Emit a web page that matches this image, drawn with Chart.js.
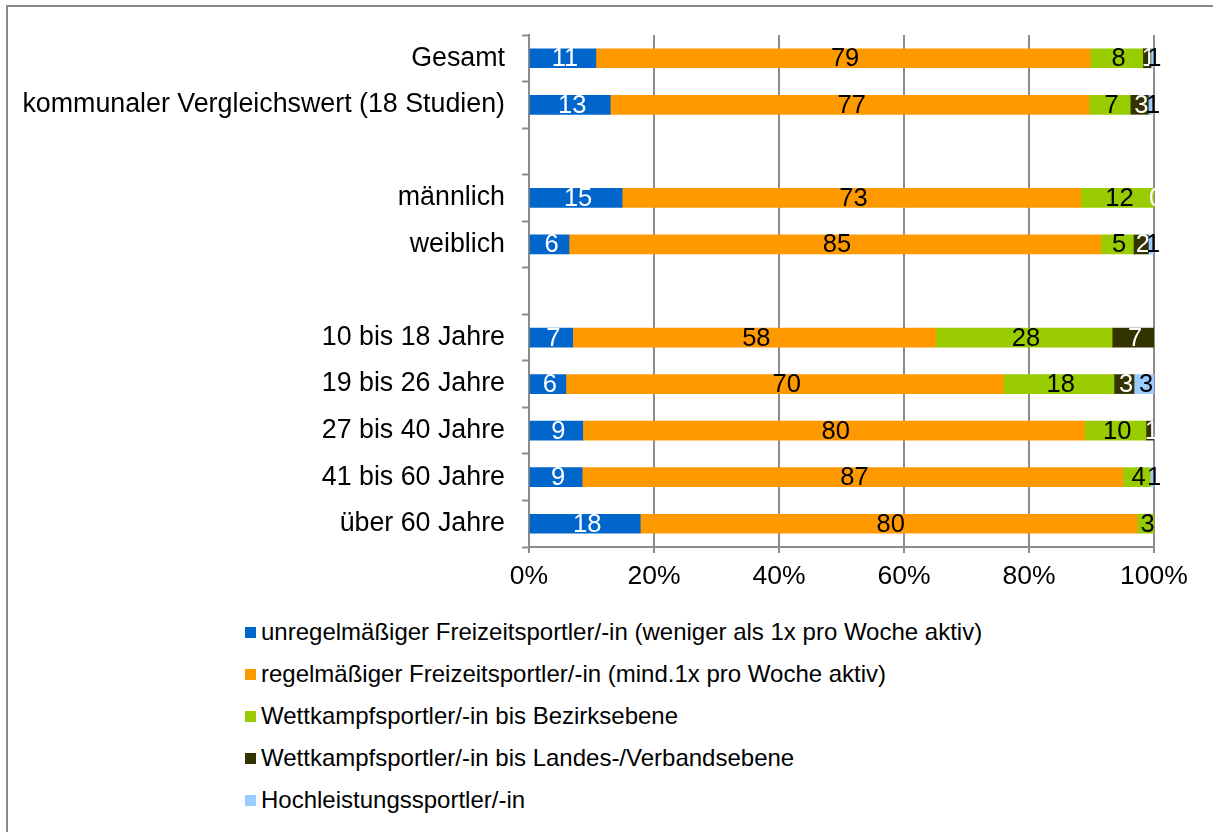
<!DOCTYPE html>
<html lang="de">
  <head>
    <meta charset="UTF-8" />
    <title>Sportlertypen</title>
    <style>
      body {
        margin: 0;
        background: #fff;
        font-family: "Liberation Sans", Arial, sans-serif;
        overflow: hidden;
      }
      #rahmen {
        position: absolute;
        left: 6px;
        top: 5px;
        width: 1300px;
        height: 900px;
        border-top: 2px solid #898989;
        border-left: 2px solid #898989;
      }
      #grafik {
        position: absolute;
        left: 0;
        top: 0;
      }
      #legende {
        position: absolute;
        left: 245px;
        top: 611px;
        font-size: 24px;
        color: #000;
      }
      .eintrag {
        height: 42px;
        line-height: 42px;
        white-space: nowrap;
      }
      .eintrag span {
        display: inline-block;
        width: 11px;
        height: 11px;
        margin-right: 5px;
        vertical-align: 2px;
      }
    </style>
  </head>
  <body>
    <div id="rahmen"></div>
    <canvas id="grafik" width="1213" height="600"></canvas>
    <div id="legende"></div>

    <script src="https://cdn.jsdelivr.net/npm/chart.js"></script>

    <script>
      const kategorien = [
        "Gesamt",
        "kommunaler Vergleichswert (18 Studien)",
        "",
        "männlich",
        "weiblich",
        "",
        "10 bis 18 Jahre",
        "19 bis 26 Jahre",
        "27 bis 40 Jahre",
        "41 bis 60 Jahre",
        "über 60 Jahre",
      ];

      const unregelmaessig = [10.7, 13.0, null, 14.9, 6.4, null, 7.0, 5.9, 8.6, 8.5, 17.8];
      const regelmaessig = [79.1, 76.6, null, 73.4, 85.1, null, 58.1, 70.0, 80.3, 86.5, 79.5];
      const bezirk = [8.4, 6.6, null, 11.7, 5.2, null, 28.2, 17.7, 9.8, 4.4, 2.7];
      const landes = [1.3, 2.9, null, 0, 2.4, null, 6.7, 3.2, 1.3, null, null];
      const hochleistung = [0.5, 0.9, null, null, 0.9, null, null, 3.2, null, 0.6, null];

      const xTicks = [0, 20, 40, 60, 80, 100];

      const serien = [
        {
          label: "unregelmäßiger Freizeitsportler/-in (weniger als 1x pro Woche aktiv)",
          data: unregelmaessig,
          farbe: "#0066cc",
          schrift: "#ffffff",
        },
        {
          label: "regelmäßiger Freizeitsportler/-in (mind.1x pro Woche aktiv)",
          data: regelmaessig,
          farbe: "#ff9900",
          schrift: "#000000",
        },
        {
          label: "Wettkampfsportler/-in bis Bezirksebene",
          data: bezirk,
          farbe: "#99cc00",
          schrift: "#000000",
        },
        {
          label: "Wettkampfsportler/-in bis Landes-/Verbandsebene",
          data: landes,
          farbe: "#333300",
          schrift: "#ffffff",
        },
        {
          label: "Hochleistungssportler/-in",
          data: hochleistung,
          farbe: "#99ccff",
          schrift: "#000000",
        },
      ];

      // Werte mittig in die Balken schreiben
      const wertePlugin = {
        id: "werte",
        afterDatasetsDraw(chart) {
          const ctx = chart.ctx;
          ctx.save();
          ctx.font = '25.5px "Liberation Sans", Arial, sans-serif';
          ctx.textAlign = "center";
          ctx.textBaseline = "middle";
          chart.data.datasets.forEach((ds, i) => {
            const meta = chart.getDatasetMeta(i);
            meta.data.forEach((bar, j) => {
              const v = ds.data[j];
              if (v === null) return;
              ctx.fillStyle = serien[i].schrift;
              ctx.fillText(Math.round(v), (bar.x + bar.base) / 2 + 2, bar.y + 1);
            });
          });
          ctx.restore();
        },
      };

      const grau = "#8c8c8c";
      const schriftart = '"Liberation Sans", Arial, sans-serif';

      new Chart(document.getElementById("grafik"), {
        type: "bar",
        data: {
          labels: kategorien,
          datasets: serien.map((s) => ({
            label: s.label,
            data: s.data,
            backgroundColor: s.farbe,
            barThickness: 19,
          })),
        },
        options: {
          indexAxis: "y",
          responsive: false,
          animation: false,
          layout: { padding: { left: 0, top: 35, right: 59, bottom: 0 } },
          plugins: {
            legend: { display: false },
            tooltip: { enabled: false },
          },
          scales: {
            x: {
              stacked: true,
              min: 0,
              max: 100,
              afterBuildTicks: (scale) => {
                scale.ticks = xTicks.map((v) => ({ value: v }));
              },
              afterFit: (scale) => {
                scale.height = 53;
                scale.paddingLeft = 0;
                scale.paddingRight = 0;
              },
              ticks: {
                color: "#000",
                font: { family: schriftart, size: 26.5 },
                padding: 8,
                maxRotation: 0,
                callback: (v) => v + "%",
              },
              grid: {
                color: grau,
                lineWidth: 2,
                tickLength: 6,
                tickColor: grau,
                tickWidth: 2,
              },
              border: { color: grau, width: 2 },
            },
            y: {
              stacked: true,
              afterFit: (scale) => {
                scale.width = 529;
                scale.paddingTop = 0;
                scale.paddingBottom = 0;
              },
              ticks: {
                color: "#000",
                font: { family: schriftart, size: 26.8 },
                padding: 17,
                autoSkip: false,
              },
              grid: {
                offset: true,
                drawOnChartArea: false,
                tickLength: 7,
                tickColor: grau,
                tickWidth: 2,
              },
              border: { color: grau, width: 2 },
            },
          },
        },
        plugins: [wertePlugin],
      });

      const legende = document.getElementById("legende");
      serien.forEach((s) => {
        const zeile = document.createElement("div");
        zeile.className = "eintrag";
        zeile.innerHTML = `<span style="background:${s.farbe}"></span>${s.label}`;
        legende.appendChild(zeile);
      });
    </script>
  </body>
</html>
